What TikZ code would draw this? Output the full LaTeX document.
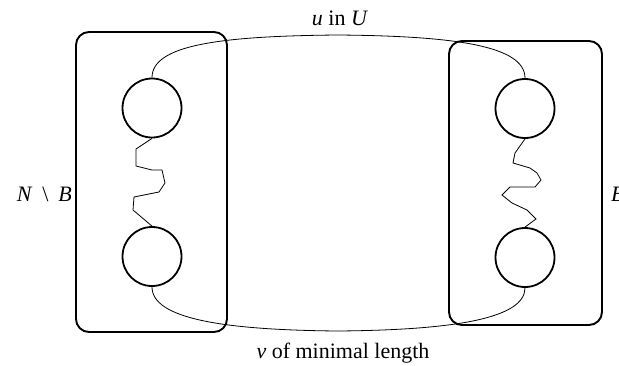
\documentclass[tikz,border=0pt]{standalone}
\usepackage{fontspec}
\setmainfont{Liberation Serif}
\usetikzlibrary{positioning}

\begin{document}
\begin{tikzpicture}[x=1pt,y=-1pt]
  \tikzstyle{part}=[draw,rounded corners=13pt,line width=1.9pt,inner sep=0pt]
  \tikzstyle{blob}=[draw,circle,line width=1.8pt,minimum size=59pt,inner sep=0pt]
  \tikzstyle{wire}=[line width=0.8pt]
  \tikzstyle{lbl}=[inner sep=0pt,font=\fontsize{22}{26}\selectfont]
  \useasboundingbox (0,0) rectangle (619,365);
  % the two parts
  \node[part,minimum width=151pt,minimum height=300pt] (lbox) at (151.5,182) {};
  \node[part,minimum width=153pt,minimum height=284pt] (rbox) at (525.5,183) {};
  \node[blob] (ltop) at (152,108) {};
  \node[blob] (lbot) at (152,256.5) {};
  \node[blob] (rtop) at (525,108.5) {};
  \node[blob] (rbot) at (525,257.5) {};
  % labels
  \node[lbl,anchor=base east] (nb) at (72,201)
    {\textit{N}\hspace{0.45em}\textbackslash\hspace{0.45em}\textit{B}};
  \node[lbl,anchor=base west] (b) at (611,201) {\textit{B}};
  \node[lbl,anchor=base] (u) at (340,25) {\textit{u} in \textit{U}};
  \node[lbl,anchor=base] (v) at (343,358) {\textit{v} of minimal length};
  % paths u and v
  \draw[wire] (ltop.north) .. controls (152,45) and (220,36) .. (338,35)
    .. controls (456,36) and (525,46) .. (rtop.north);
  \draw[wire] (lbot.south) .. controls (152,318) and (220,330) .. (338,331)
    .. controls (456,330) and (525,318) .. (rbot.south);
  % wiggles inside the parts
  \draw[wire] (ltop.south) -- (136,149) -- (136,166) -- (152,170) -- (162,170)
    -- (165,183) -- (159,192) -- (134,197) -- (133,210) -- (lbot.north);
  \draw[wire] (rtop.south) -- (515,153) -- (513,163) -- (530,168) -- (537,173)
    -- (541,180) -- (535,187) -- (510,187) -- (502,195) -- (512,203)
    -- (527,210) -- (536,219) -- (rbot.north);
\end{tikzpicture}
\end{document}
